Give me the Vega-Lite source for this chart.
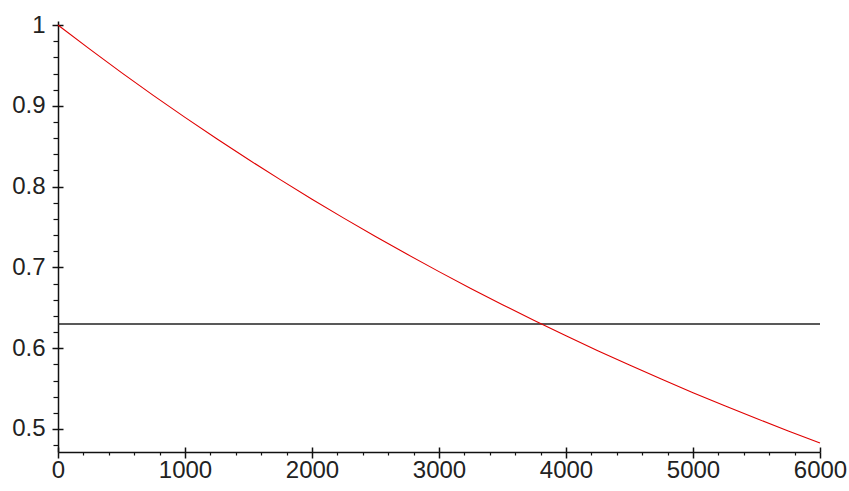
{
  "$schema": "https://vega.github.io/schema/vega-lite/v6.json",
  "width": 762,
  "height": 431,
  "autosize": "none",
  "padding": {"left": 58, "top": 21, "right": 29, "bottom": 39},
  "background": "white",
  "config": {"view": {"stroke": null}},
  "datasets": {
    "curve": [
      {"x": 0, "y": 1.0},
      {"x": 250, "y": 0.97011},
      {"x": 500, "y": 0.94111},
      {"x": 750, "y": 0.91298},
      {"x": 1000, "y": 0.88568},
      {"x": 1250, "y": 0.85921},
      {"x": 1500, "y": 0.83352},
      {"x": 1750, "y": 0.80861},
      {"x": 2000, "y": 0.78443},
      {"x": 2250, "y": 0.76098},
      {"x": 2500, "y": 0.73824},
      {"x": 2750, "y": 0.71617},
      {"x": 3000, "y": 0.69475},
      {"x": 3250, "y": 0.67398},
      {"x": 3500, "y": 0.65384},
      {"x": 3750, "y": 0.63429},
      {"x": 4000, "y": 0.61533},
      {"x": 4250, "y": 0.59694},
      {"x": 4500, "y": 0.57909},
      {"x": 4750, "y": 0.56178},
      {"x": 5000, "y": 0.54498},
      {"x": 5250, "y": 0.52869},
      {"x": 5500, "y": 0.51289},
      {"x": 5750, "y": 0.49756},
      {"x": 6000, "y": 0.48268}
    ],
    "level": [{"x0": 0, "x1": 6000, "y": 0.63}]
  },
  "resolve": {"axis": {"x": "independent", "y": "independent"}},
  "layer": [
    {
      "data": {"name": "curve"},
      "mark": {"type": "line", "opacity": 0},
      "encoding": {
        "x": {
          "field": "x",
          "type": "quantitative",
          "scale": {"domain": [0, 6000], "nice": false, "zero": false},
          "axis": {
            "orient": "bottom",
            "title": null,
            "grid": false,
            "labels": false,
            "domain": false,
            "values": [0,200,400,600,800,1000,1200,1400,1600,1800,2000,2200,2400,2600,2800,3000,3200,3400,3600,3800,4000,4200,4400,4600,4800,5000,5200,5400,5600,5800,6000],
            "tickColor": "#111111",
            "tickWidth": {"condition": {"test": "datum.value % 1000 === 0", "value": 1.5}, "value": 1.2},
            "tickSize": {"condition": {"test": "datum.value % 1000 === 0", "value": -5}, "value": 3}
          }
        },
        "y": {
          "field": "y",
          "type": "quantitative",
          "scale": {"domain": [0.4715, 1.005], "nice": false, "zero": false},
          "axis": {
            "orient": "left",
            "title": null,
            "grid": false,
            "labels": false,
            "domain": false,
            "values": [0.48,0.5,0.52,0.54,0.56,0.58,0.6,0.62,0.64,0.66,0.68,0.7,0.72,0.74,0.76,0.78,0.8,0.82,0.84,0.86,0.88,0.9,0.92,0.94,0.96,0.98,1.0],
            "tickColor": "#111111",
            "tickWidth": {"condition": {"test": "abs(datum.value*10 - round(datum.value*10)) < 0.001", "value": 1.5}, "value": 1.2},
            "tickSize": {"condition": {"test": "abs(datum.value*10 - round(datum.value*10)) < 0.001", "value": -5}, "value": 5}
          }
        }
      }
    },
    {
      "data": {"name": "level"},
      "mark": {"type": "rule", "color": "#222222", "strokeWidth": 1.6},
      "encoding": {
        "x": {"field": "x0", "type": "quantitative", "axis": null},
        "x2": {"field": "x1"},
        "y": {"field": "y", "type": "quantitative", "axis": null}
      }
    },
    {
      "data": {"name": "curve"},
      "mark": {"type": "line", "color": "#e00000", "strokeWidth": 1.1, "interpolate": "monotone"},
      "encoding": {
        "x": {
          "field": "x",
          "type": "quantitative",
          "axis": {
            "orient": "bottom",
            "title": null,
            "grid": false,
            "values": [0, 1000, 2000, 3000, 4000, 5000, 6000],
            "format": "d",
            "domainColor": "#111111",
            "domainWidth": 1.5,
            "tickColor": "#111111",
            "tickWidth": 1.5,
            "tickSize": 6,
            "labelFont": "Liberation Sans, Arial, sans-serif",
            "labelFontSize": 24,
            "labelColor": "#222222",
            "labelPadding": 0,
            "labelFlush": false,
            "labelOverlap": false
          }
        },
        "y": {
          "field": "y",
          "type": "quantitative",
          "axis": {
            "orient": "left",
            "title": null,
            "grid": false,
            "values": [0.5, 0.6, 0.7, 0.8, 0.9, 1.0],
            "format": "~g",
            "domainColor": "#111111",
            "domainWidth": 1.5,
            "tickColor": "#111111",
            "tickWidth": 1.5,
            "tickSize": 6,
            "labelFont": "Liberation Sans, Arial, sans-serif",
            "labelFontSize": 24,
            "labelColor": "#222222",
            "labelPadding": 7,
            "labelFlush": false,
            "labelOverlap": false
          }
        }
      }
    }
  ]
}
